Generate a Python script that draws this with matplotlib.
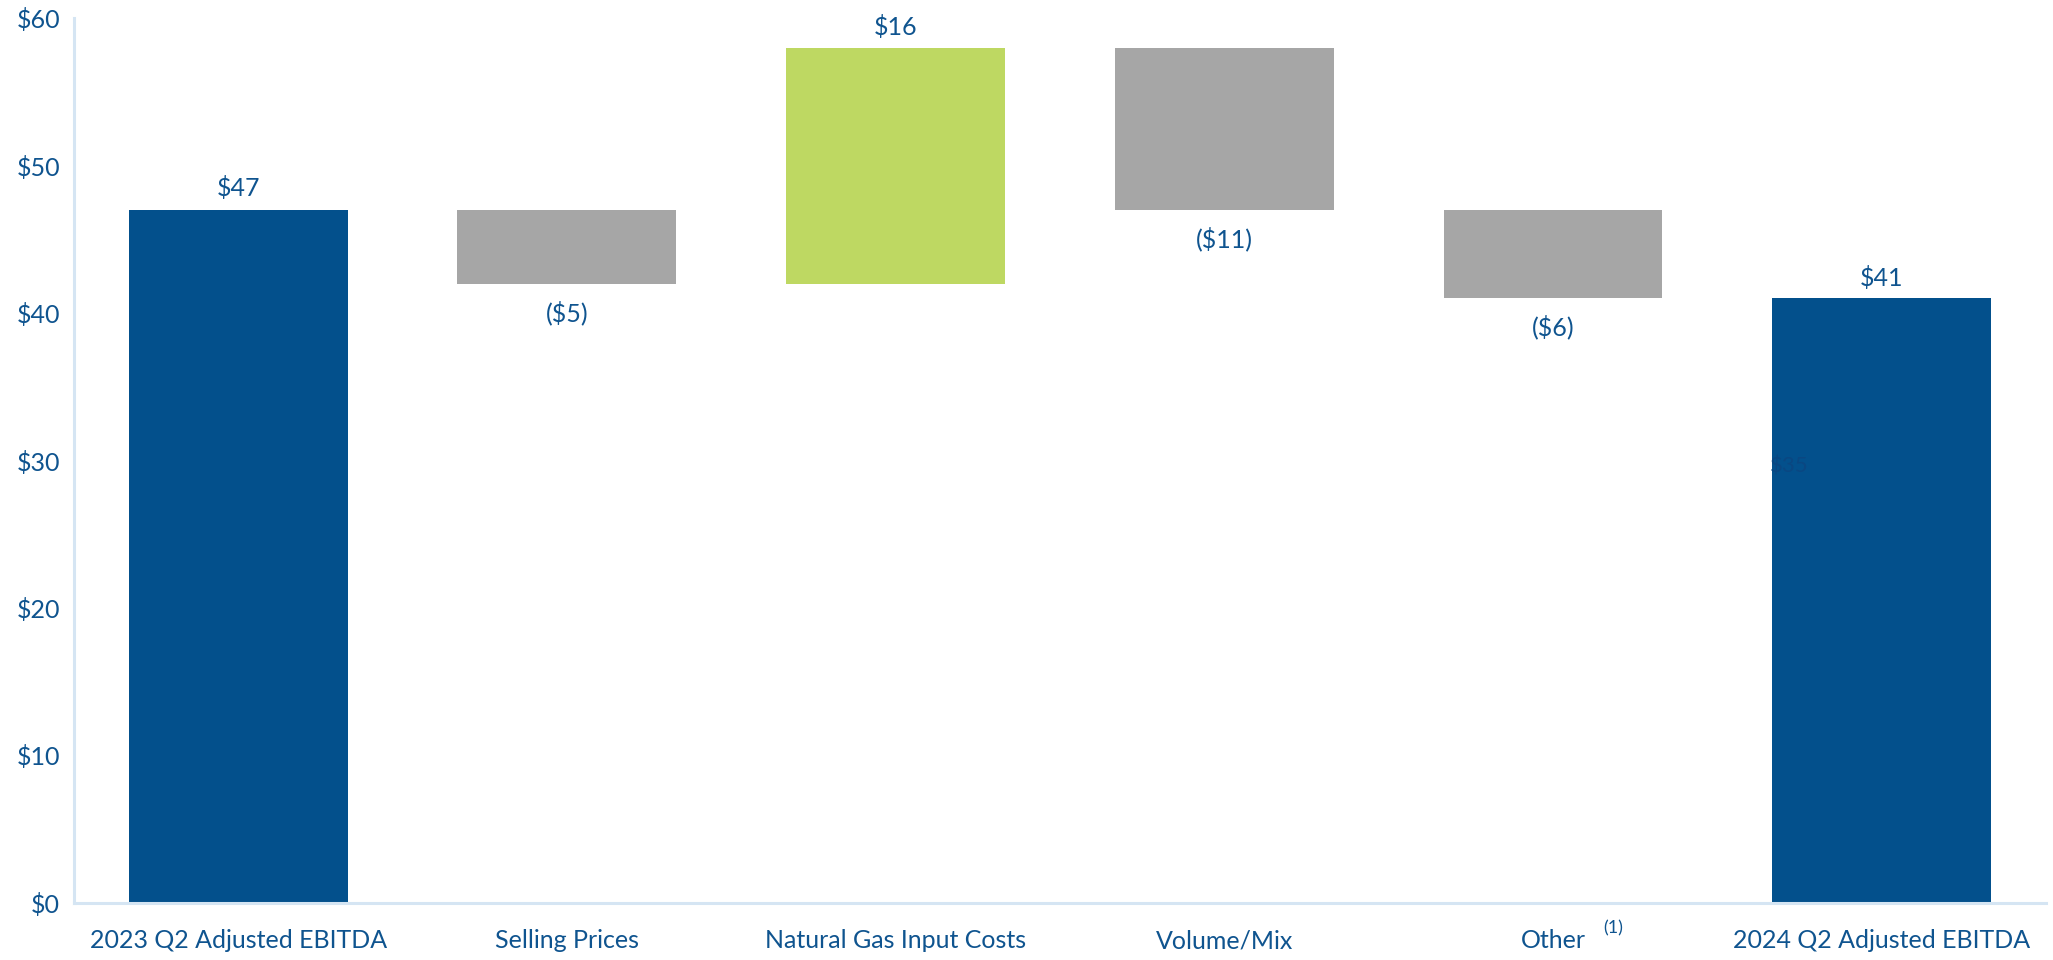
import matplotlib
matplotlib.use("Agg")
import matplotlib.pyplot as plt
import numpy as np

# bridge from 2023 Q2 to 2024 Q2 adjusted EBITDA ($ millions)
categories = ["2023 Q2 Adjusted EBITDA", "Selling Prices", "Natural Gas Input Costs",
              "Volume/Mix", "Other", "2024 Q2 Adjusted EBITDA"]
start_value = 47
changes = [-5, 16, -11, -6]
end_value = 41
y_ticks = [0, 10, 20, 30, 40, 50, 60]

BLUE = "#03508c"
GRAY = "#a6a6a6"
GREEN = "#bed862"
TEXT = "#0f548f"
SPINE = "#d5e5f3"

plt.rcParams["font.family"] = ["Lato", "DejaVu Sans"]

fig = plt.figure(figsize=(20.53, 9.6), dpi=100)
ax = fig.add_axes([0.036, 0.0594, 0.9606, 0.9218])

x = np.arange(len(categories))
width = 0.666

# totals
ax.bar([x[0], x[-1]], [start_value, end_value], width=width, color=BLUE, zorder=2)

# floating change bars
running = start_value
bar_info = []
for i, d in enumerate(changes, start=1):
    lo, hi = (running + d, running) if d < 0 else (running, running + d)
    ax.bar(x[i], hi - lo, bottom=lo, width=width,
           color=GREEN if d > 0 else GRAY, zorder=2)
    bar_info.append((x[i], lo, hi, d))
    running += d

label_kw = dict(textcoords="offset pixels", ha="center", va="center",
                fontsize=18, color=TEXT)
ax.annotate(f"${start_value}", xy=(x[0], start_value), xytext=(0, 22), **label_kw)
ax.annotate(f"${end_value}", xy=(x[-1], end_value), xytext=(0, 20), **label_kw)
for xi, lo, hi, d in bar_info:
    if d > 0:
        ax.annotate(f"${d}", xy=(xi, hi), xytext=(0, 21), **label_kw)
    else:
        ax.annotate(f"(${-d})", xy=(xi, lo), xytext=(0, -29), **label_kw)

# leftover label mostly hidden on the final bar
ax.text(4.661, 29.6, "$35", fontsize=16, color="#0a4782", va="center", ha="left", zorder=3)

ax.set_xlim(-0.5, 5.5)
ax.set_ylim(0, 60)
ax.set_yticks(y_ticks)
ax.set_yticklabels([f"${v}" for v in y_ticks])
ax.set_xticks(x)
ax.set_xticklabels(categories)
ax.tick_params(axis="both", length=0, labelsize=18, labelcolor=TEXT)
ax.tick_params(axis="x", pad=19)
ax.tick_params(axis="y", pad=10)

# footnote marker on "Other"
ax.annotate("(1)", xy=(x[4], 0), xytext=(60, -25), textcoords="offset pixels",
            ha="center", va="center", fontsize=13, color=TEXT)

for s in ["top", "right"]:
    ax.spines[s].set_visible(False)
for s in ["left", "bottom"]:
    ax.spines[s].set_color(SPINE)
    ax.spines[s].set_linewidth(2.2)

fig.savefig("out.png", dpi=100)
